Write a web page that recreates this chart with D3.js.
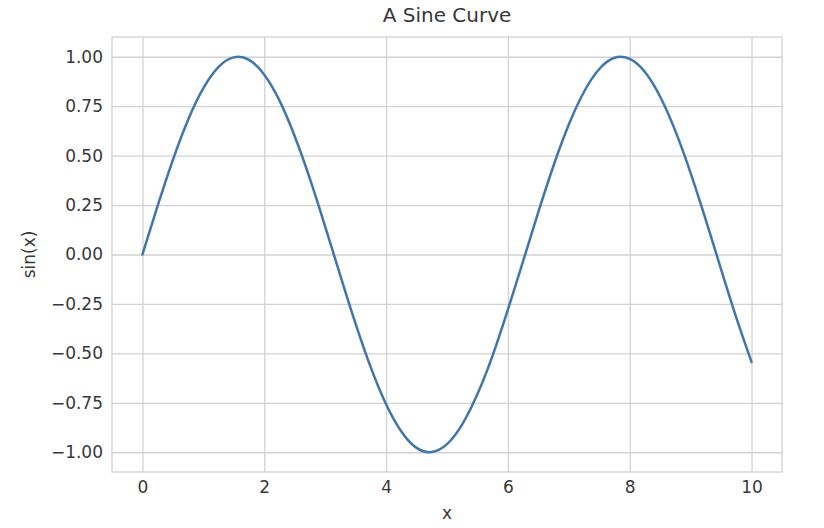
<!DOCTYPE html>
<html>
<head>
<meta charset="utf-8">
<script src="https://cdn.jsdelivr.net/npm/d3@7"></script>
<style>
  body { margin: 0; background: #fff; }
  svg text { font-family: "DejaVu Sans", sans-serif; fill: #383838; }
</style>
</head>
<body>
<div id="chart"></div>
<script>
// values
const xs = [0, 0.25, 0.5, 0.75, 1, 1.25, 1.5, 1.75, 2, 2.25, 2.5, 2.75, 3, 3.25, 3.5, 3.75,
  4, 4.25, 4.5, 4.75, 5, 5.25, 5.5, 5.75, 6, 6.25, 6.5, 6.75, 7, 7.25, 7.5, 7.75,
  8, 8.25, 8.5, 8.75, 9, 9.25, 9.5, 9.75, 10];
const ys = [0, 0.247, 0.479, 0.682, 0.841, 0.949, 0.997, 0.984, 0.909, 0.778, 0.598, 0.382, 0.141, -0.108, -0.351, -0.572,
  -0.757, -0.895, -0.978, -0.999, -0.959, -0.859, -0.706, -0.510, -0.279, -0.033, 0.215, 0.450, 0.657, 0.823, 0.938, 0.995,
  0.989, 0.923, 0.798, 0.624, 0.412, 0.174, -0.075, -0.319, -0.544];
const xTicks = [0, 2, 4, 6, 8, 10];
const yTicks = [-1, -0.75, -0.5, -0.25, 0, 0.25, 0.5, 0.75, 1];
const yTickLabels = ['\u22121.00', '\u22120.75', '\u22120.50', '\u22120.25', '0.00', '0.25', '0.50', '0.75', '1.00'];

const w = 824, h = 528;
const margin = { top: 37, right: 42, bottom: 56, left: 112 };
const gridColor = '#d2d2d2';

const data = xs.map((x, i) => ({ x: x, y: ys[i] }));

const xScale = d3.scaleLinear()
  .domain([-0.5, 10.5])
  .range([margin.left, w - margin.right]);

const yScale = d3.scaleLinear()
  .domain([-1.1, 1.1])
  .range([h - margin.bottom, margin.top]);

const svg = d3.select('#chart')
  .append('svg')
  .attr('width', w)
  .attr('height', h);

// x axis + vertical grid
svg.append('g')
  .attr('transform', `translate(0, ${h - margin.bottom})`)
  .call(d3.axisBottom(xScale).tickValues(xTicks).tickFormat(d3.format('d'))
    .tickSize(-(h - margin.top - margin.bottom)).tickPadding(9))
  .call(g => g.select('.domain').remove())
  .call(g => g.selectAll('.tick line').attr('stroke', gridColor).attr('stroke-width', 1.3))
  .call(g => g.selectAll('.tick text').attr('font-size', 17).attr('font-family', null));

// y axis + horizontal grid
svg.append('g')
  .attr('transform', `translate(${margin.left}, 0)`)
  .call(d3.axisLeft(yScale).tickValues(yTicks).tickFormat((d, i) => yTickLabels[i])
    .tickSize(-(w - margin.left - margin.right)).tickPadding(9))
  .call(g => g.select('.domain').remove())
  .call(g => g.selectAll('.tick line').attr('stroke', gridColor).attr('stroke-width', 1.3))
  .call(g => g.selectAll('.tick text').attr('font-size', 17).attr('font-family', null));

// frame
svg.append('rect')
  .attr('x', margin.left)
  .attr('y', margin.top)
  .attr('width', w - margin.left - margin.right)
  .attr('height', h - margin.top - margin.bottom)
  .attr('fill', 'none')
  .attr('stroke', gridColor)
  .attr('stroke-width', 1.3);

const line = d3.line()
  .x(d => xScale(d.x))
  .y(d => yScale(d.y))
  .curve(d3.curveNatural);

svg.append('path')
  .datum(data)
  .attr('fill', 'none')
  .attr('stroke', '#4176aa')
  .attr('stroke-width', 2.5)
  .attr('stroke-linejoin', 'round')
  .attr('stroke-linecap', 'round')
  .attr('d', line);

svg.append('text')
  .attr('x', (margin.left + w - margin.right) / 2)
  .attr('y', 22)
  .attr('text-anchor', 'middle')
  .attr('font-size', 20)
  .text('A Sine Curve');

svg.append('text')
  .attr('x', (margin.left + w - margin.right) / 2)
  .attr('y', 519)
  .attr('text-anchor', 'middle')
  .attr('font-size', 17)
  .text('x');

svg.append('text')
  .attr('transform', `translate(35, ${(margin.top + h - margin.bottom) / 2}) rotate(-90)`)
  .attr('text-anchor', 'middle')
  .attr('font-size', 17)
  .text('sin(x)');
</script>
</body>
</html>
